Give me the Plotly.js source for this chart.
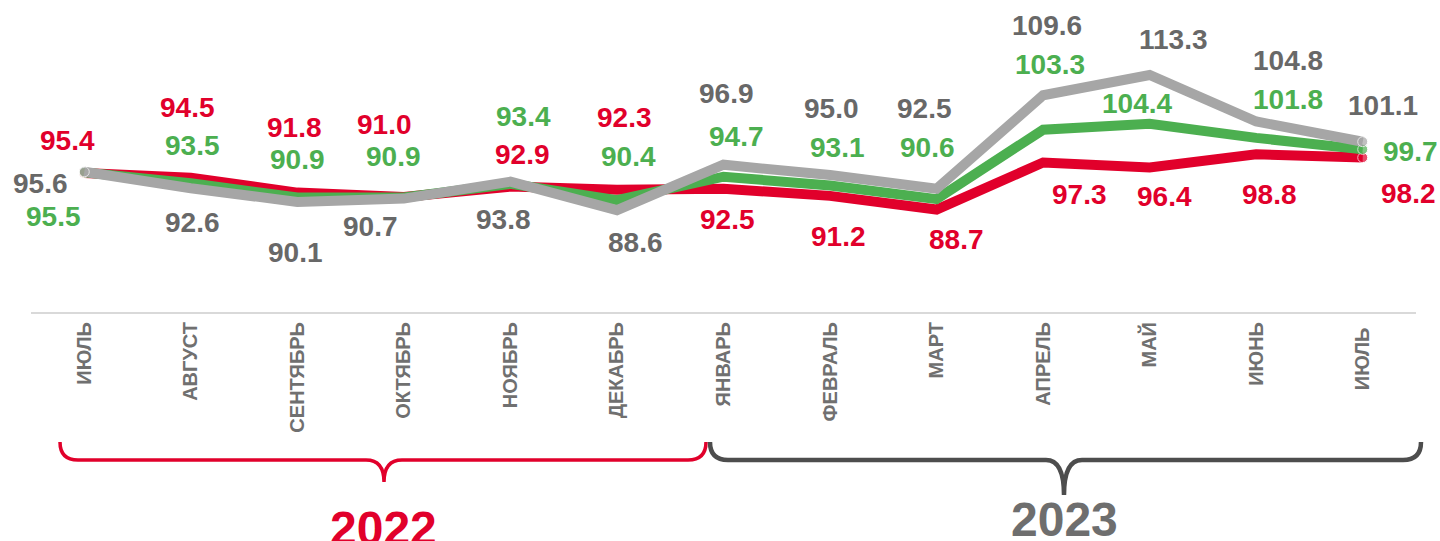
<!DOCTYPE html>
<html>
<head>
<meta charset="utf-8">
<script src="https://cdn.plot.ly/plotly-3.0.1.min.js"></script>
<style>html,body{margin:0;padding:0;background:#fff}#chart{width:1440px;height:541px}</style>
</head>
<body>
<div id="chart"></div>
<script>
// ---- data ----
var months = ["ИЮЛЬ","АВГУСТ","СЕНТЯБРЬ","ОКТЯБРЬ","НОЯБРЬ","ДЕКАБРЬ","ЯНВАРЬ","ФЕВРАЛЬ","МАРТ","АПРЕЛЬ","МАЙ","ИЮНЬ","ИЮЛЬ "];
var redValues   = [95.4, 94.5, 91.8, 91.0, 92.9, 92.3, 92.5, 91.2, 88.7, 97.3, 96.4, 98.8, 98.2];
var greenValues = [95.5, 93.5, 90.9, 90.9, 93.4, 90.4, 94.7, 93.1, 90.6, 103.3, 104.4, 101.8, 99.7];
var grayValues  = [95.6, 92.6, 90.1, 90.7, 93.8, 88.6, 96.9, 95.0, 92.5, 109.6, 113.3, 104.8, 101.1];
var years = ["2022", "2023"];

// ---- styles ----
var RED = "#E1002B", GREEN = "#4CAF50", GRAYLINE = "#A6A6A6", GRAYTEXT = "#686868", DARK = "#4D4D4D";
// label offsets in pixels (dx, dy; dy positive = down)
var redOff = [[-17,-32],[-3,-70],[-3,-65],[-19,-72],[12,-32],[8,-72],[4,31],[8,41],[20,30],[36,32],[15,29],[13,40],[46,36]];
var greenOff = [[-31,44],[2,-38],[0,-38],[-10,-41],[13,-67],[12,-44],[13,-40],[7,-38],[-9,-52],[7,-65],[-13,-20],[32,-38],[48,2]];
var grayOff = [[-44,12],[2,34],[-2,51],[-33,28],[-7,38],[19,32],[3,-71],[1,-67],[-12,-80],[4,-70],[24,-35],[32,-61],[20,-36]];

var W = 1440, H = 541, ML = 31, MR = 24, MT = 0, MB = 229;
var PW = W - ML - MR, PH = H - MT - MB;
function px(x){ return (x - ML) / PW; }
function py(y){ return (H - MB - y) / PH; }

function endSizes(n, s){ var a = []; for (var i=0;i<n;i++) a.push(i===0||i===n-1 ? s : 0); return a; }

function lineTrace(vals, color){
  return {
    x: months, y: vals, type: "scatter", mode: "lines+markers",
    line: {color: color, width: 10},
    marker: {color: color, size: endSizes(vals.length, 10)},
    hoverinfo: "skip", showlegend: false
  };
}

var traces = [lineTrace(redValues, RED), lineTrace(greenValues, GREEN), lineTrace(grayValues, GRAYLINE)];

var annotations = [];
function addLabels(vals, offs, color){
  vals.forEach(function(v, i){
    annotations.push({
      x: months[i], y: v, xref: "x", yref: "y",
      text: v.toFixed(1), showarrow: false,
      xanchor: "center", yanchor: "middle",
      xshift: offs[i][0], yshift: -offs[i][1],
      font: {family: "Liberation Sans, Arial, sans-serif", size: 28, color: color, weight: 700}
    });
  });
}
addLabels(redValues, redOff, RED);
addLabels(greenValues, greenOff, GREEN);
addLabels(grayValues, grayOff, GRAYTEXT);

annotations.push({
  x: px(383), y: py(528), xref: "paper", yref: "paper", text: years[0], showarrow: false,
  xanchor: "center", yanchor: "middle",
  font: {family: "Liberation Sans, Arial, sans-serif", size: 48, color: RED, weight: 700}
});
annotations.push({
  x: px(1064), y: py(519), xref: "paper", yref: "paper", text: years[1], showarrow: false,
  xanchor: "center", yanchor: "middle",
  font: {family: "Liberation Sans, Arial, sans-serif", size: 48, color: "#6E6E6E", weight: 700}
});

function bracePath(x0, x1, xt, yTop, yBar, yTip, r){
  function P(x, y){ return px(x) + "," + py(y); }
  return "M" + P(x0, yTop) +
    " Q" + P(x0, yBar) + " " + P(x0 + r, yBar) +
    " L" + P(xt - r, yBar) +
    " Q" + P(xt, yBar) + " " + P(xt, yTip) +
    " Q" + P(xt, yBar) + " " + P(xt + r, yBar) +
    " L" + P(x1 - r, yBar) +
    " Q" + P(x1, yBar) + " " + P(x1, yTop);
}

var shapes = [
  {type: "path", xref: "paper", yref: "paper", path: bracePath(60, 706, 384, 442, 460, 482, 18),
   line: {color: RED, width: 3.5}},
  {type: "path", xref: "paper", yref: "paper", path: bracePath(710, 1421, 1064, 442, 460, 495, 18),
   line: {color: DARK, width: 4.5}}
];

var layout = {
  width: W, height: H,
  margin: {l: ML, r: MR, t: MT, b: MB, pad: 0},
  paper_bgcolor: "#ffffff", plot_bgcolor: "#ffffff",
  showlegend: false,
  xaxis: {
    type: "category", range: [-0.5, 12.5], fixedrange: true,
    showgrid: false, zeroline: false,
    showline: true, linecolor: "#D9D9D9", linewidth: 2,
    ticks: "", tickangle: -90, ticklabelstandoff: 0,
    tickfont: {family: "Liberation Sans, Arial, sans-serif", size: 20, color: "#707070", weight: 700}
  },
  yaxis: {
    range: [69.97, 127.01], visible: false, fixedrange: true,
    showgrid: false, zeroline: false
  },
  annotations: annotations,
  shapes: shapes
};

Plotly.newPlot("chart", traces, layout, {displayModeBar: false, staticPlot: true});
</script>
</body>
</html>
